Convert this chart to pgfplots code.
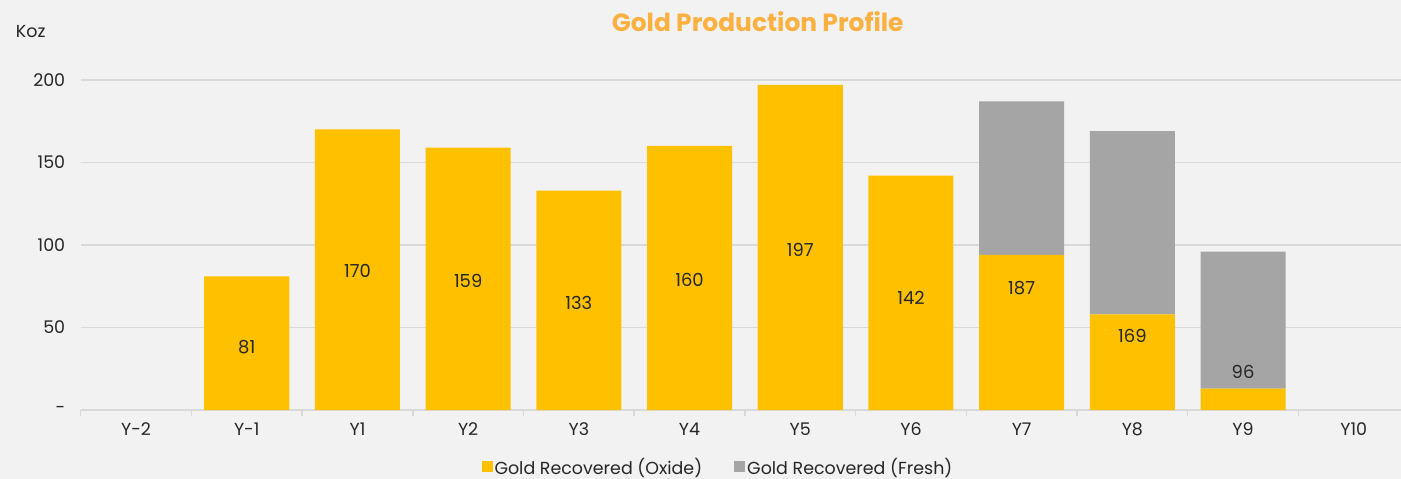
\documentclass[border=0pt]{standalone}
\usepackage{pgfplots}
\pgfplotsset{compat=1.18}
\usepackage{fontspec}
\setmainfont{Poppins}
\definecolor{oxide}{HTML}{FFC000}
\definecolor{fresh}{HTML}{A5A5A5}
\definecolor{bg}{HTML}{F2F2F2}
\definecolor{gridc}{HTML}{D9D9D9}
\definecolor{titlec}{HTML}{FBB040}
\definecolor{txt}{HTML}{262626}
\begin{document}
\begin{tikzpicture}
\fill[bg] (-80.7bp,-69bp) rectangle (1320.3bp,410bp);
\begin{axis}[
  at={(0,0)}, anchor=south west,
  scale only axis, width=1328.4bp, height=330bp,
  xmin=-0.5, xmax=11.5, ymin=0, ymax=200,
  ybar stacked, bar width=0.768,
  axis line style={draw=none},
  ymajorgrids, grid style={gridc, line width=1.5bp},
  ytick={0,50,100,150,200},
  yticklabels={-,50,100,150,200},
  xtick={0,...,11},
  xticklabels={Y-2,Y-1,Y1,Y2,Y3,Y4,Y5,Y6,Y7,Y8,Y9,Y10},
  minor xtick={-0.5,0.5,...,11.5},
  xtick pos=lower, ytick pos=left,
  major tick length=0pt,
  minor tick length=6bp,
  tick align=outside,
  minor tick style={gridc, line width=1.5bp},
  tick label style={font=\fontsize{17.5}{18}\selectfont, text=txt},
  yticklabel style={xshift=-12bp},
  xticklabel style={yshift=-9bp},
  legend style={at={(0.4797,-0.1727)}, anchor=center, draw=none, fill=none,
    legend columns=2, font=\fontsize{17.5}{18}\selectfont, text=txt,
    /tikz/every even column/.append style={column sep=30bp}},
  legend image code/.code={\fill[#1] (0bp,-5.5bp) rectangle (11bp,5.5bp);},
]
\addplot[fill=oxide, draw=none] coordinates {
 (1,81) (2,170) (3,159) (4,133) (5,160) (6,197) (7,142) (8,94) (9,58) (10,13)};
\addlegendentry{Gold Recovered (Oxide)}
\addplot[fill=fresh, draw=none] coordinates {
 (1,0) (2,0) (3,0) (4,0) (5,0) (6,0) (7,0) (8,93) (9,111) (10,83)};
\addlegendentry{Gold Recovered (Fresh)}
\end{axis}
\begin{axis}[
  at={(0,0)}, anchor=south west,
  scale only axis, width=1328.4bp, height=330bp,
  xmin=-0.5, xmax=11.5, ymin=0, ymax=200,
  hide axis]
\addplot[draw=none, nodes near coords, point meta=explicit symbolic,
  nodes near coords align=center,
  every node near coord/.append style={font=\fontsize{18}{19}\selectfont, text=txt}]
  table[meta=label] {
x y label
1 38 81
2 84 170
3 78 159
4 65 133
5 79 160
6 97 197
7 68 142
8 74 187
9 45 169
10 23 96
};
\end{axis}
\node[font=\bfseries\fontsize{25}{27}\selectfont, text=titlec] at (677bp,388bp) {Gold Production Profile};
\node[font=\fontsize{17.5}{18}\selectfont, text=txt] at (-50bp,378bp) {Koz};
\pgfresetboundingbox
\useasboundingbox (-80.7bp,-69bp) rectangle (1320.3bp,410bp);
\end{tikzpicture}
\end{document}
